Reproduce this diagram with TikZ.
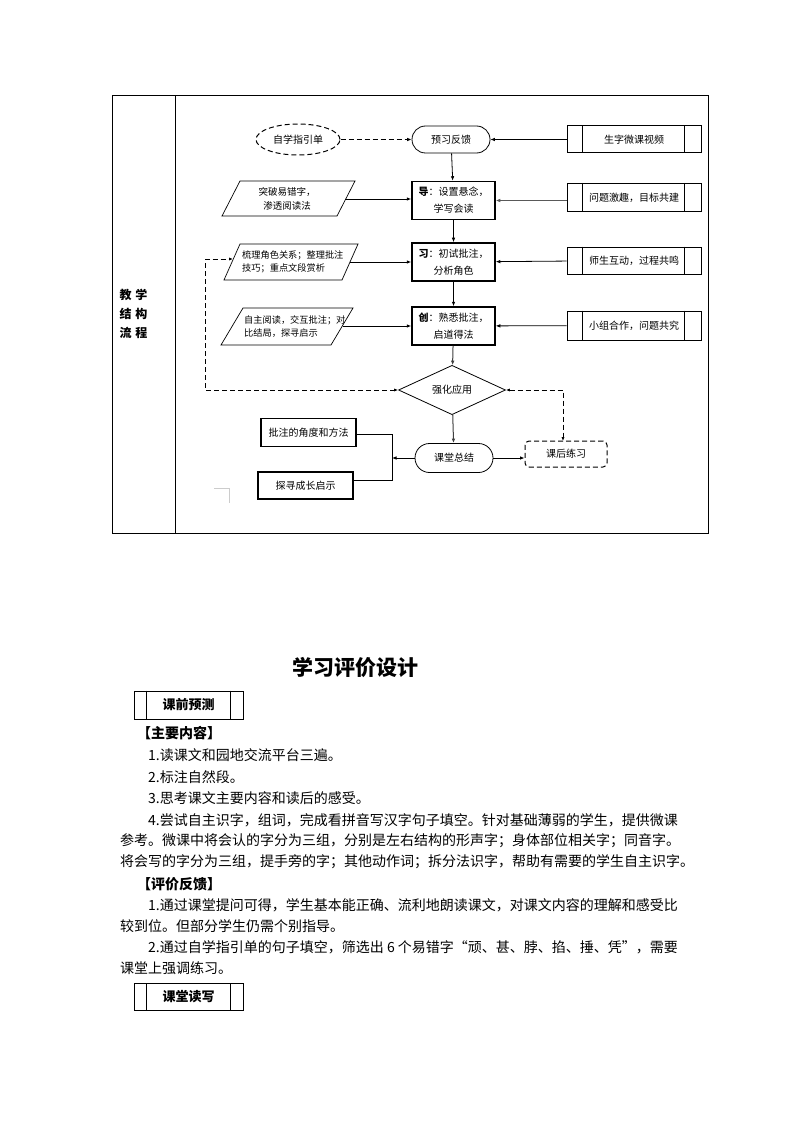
\documentclass[tikz,border=0pt]{standalone}
\usepackage{fontspec}
\setmainfont{Noto Sans CJK SC}
\usetikzlibrary{arrows.meta,shapes.geometric,calc}
\begin{document}
\begin{tikzpicture}[x=1pt,y=-1pt,
  tipp/.style={-{Latex[length=4.5pt,width=3.6pt]}},
  flow/.style={line width=0.8pt, tipp},
  dsh/.style={line width=1pt, dash pattern=on 5pt off 3pt},
  ftxt/.style={inner sep=0pt, font=\fontsize{9.2}{13}\selectfont},
  body/.style={inner sep=0pt, anchor=west, font=\fontsize{14}{16}\selectfont},
  pp/.style={draw, line width=1pt, minimum width=134pt, minimum height=27pt, inner sep=0pt, font=\fontsize{10}{12}\selectfont},
  stage/.style={draw, line width=1.5pt, minimum width=83pt, minimum height=38pt, inner sep=0pt, align=center, font=\fontsize{10}{17}\selectfont},
  term/.style={draw, line width=0.8pt, rounded corners=13.5pt, minimum width=78pt, minimum height=27pt, inner sep=0pt, font=\fontsize{10}{12}\selectfont},
  sbox/.style={draw, line width=1.2pt, minimum width=95pt, minimum height=28pt, inner sep=0pt, font=\fontsize{10}{12}\selectfont},
  para/.style={draw, line width=0.7pt},
  hbox/.style={draw, line width=1pt, minimum width=109pt, minimum height=28pt, inner sep=0pt, font=\fontsize{13}{15}\selectfont\bfseries}
]
\useasboundingbox (0,0) rectangle (794,1123);
\fill[white] (0,0) rectangle (794,1123);

% table
\draw[line width=1pt] (112,96) rectangle (708,533);
\draw[line width=1pt] (175,96) -- (175,533);
\node[inner sep=0pt, font=\fontsize{12}{14}\selectfont\bfseries] (l1) at (133.5,295) {教\hspace{4pt}学};
\node[inner sep=0pt, font=\fontsize{12}{14}\selectfont\bfseries] (l2) at (133.5,314) {结\hspace{4pt}构};
\node[inner sep=0pt, font=\fontsize{12}{14}\selectfont\bfseries] (l3) at (133.5,333) {流\hspace{4pt}程};

% row 1
\node[draw, dsh, ellipse, minimum width=84pt, minimum height=31pt, inner sep=0pt, font=\fontsize{10}{12}\selectfont] (zx) at (298,139.5) {自学指引单};
\node[term] (yx) at (451,139.5) {预习反馈};
\node[pp] (sz) at (634,139.5) {生字微课视频};

% row 2
\draw[para] (240,181) -- (355,181) -- (337,216) -- (222,216) -- cycle;
\node[ftxt, align=center, font=\fontsize{9.5}{14}\selectfont] (tp) at (287,199) {突破易错字，\\渗透阅读法};
\coordinate (tpe) at (346,199);
\node[stage] (dao) at (453.5,200.5) {\textbf{导}：设置悬念，\\学写会读};
\node[pp, minimum height=28pt] (wt) at (634,197.5) {问题激趣，目标共建};

% row 3
\draw[para] (240,244) -- (358,244) -- (342,280) -- (224,280) -- cycle;
\node[ftxt, align=left, anchor=west] (sl) at (242,262) {梳理角色关系；整理批注\\技巧；重点文段赏析};
\coordinate (slw) at (233,259);
\coordinate (sle) at (350,262);
\node[stage] (xi) at (453.5,262) {\textbf{习}：初试批注，\\分析角色};
\node[pp] (ss) at (634,260.5) {师生互动，过程共鸣};

% row 4
\draw[para] (243,308) -- (353,308) -- (331,345) -- (221,345) -- cycle;
\node[ftxt, align=left, anchor=west] (zz) at (244,327) {自主阅读，交互批注；对\\比结局，探寻启示};
\coordinate (zze) at (343,326);
\node[stage] (cz) at (453.5,326) {\textbf{创}：熟悉批注，\\启道得法};
\node[pp, minimum height=29pt] (xz) at (634,325.5) {小组合作，问题共究};

\foreach \n in {sz,wt,ss,xz}{
  \draw[line width=1pt] ([xshift=16pt]\n.north west) -- ([xshift=16pt]\n.south west);
  \draw[line width=1pt] ([xshift=-17pt]\n.north east) -- ([xshift=-17pt]\n.south east);
}

% diamond
\node[draw, diamond, line width=0.8pt, minimum width=107pt, minimum height=41pt, inner sep=0pt, font=\fontsize{10}{12}\selectfont] (qh) at (452,390) {强化应用};

% bottom
\node[term, minimum height=29pt, rounded corners=14.5pt] (kt) at (454,458) {课堂总结};
\node[draw, dsh, rounded corners=4pt, minimum width=82pt, minimum height=26pt, inner sep=0pt, font=\fontsize{10}{12}\selectfont] (kh) at (566,454) {课后练习};
\node[sbox] (pz) at (308.5,432.5) {批注的角度和方法};
\node[sbox, minimum height=27pt] (tx) at (305.5,485.5) {探寻成长启示};
\coordinate (bt) at (392,434);
\coordinate (bm) at (392,458);
\coordinate (bb) at (392,480);
\draw[gray!40, line width=0.8pt] (214,488) -- (229,488) -- (229,503);

% connectors
\draw[dsh, tipp] (zx) -- (yx);
\draw[flow] (sz) -- (yx);
\draw[flow] (yx) -- (dao);
\draw[flow] (tpe) -- (tpe -| dao.west);
\draw[line width=1.8pt, black!65, tipp] (wt.west |- dao) -- (dao.east);
\draw[flow] (dao) -- (xi);
\draw[flow] (sle) -- (sle -| xi.west);
\draw[flow] (ss) -- (xi);
\draw[flow] (xi) -- (cz);
\draw[flow] (zze) -- (zze -| cz.west);
\draw[flow] (xz) -- (cz);
\draw[flow, black!75, line width=1pt] (cz) -- (qh);
\draw[flow, black!75, line width=1pt] (qh) -- (kt);
\draw[dsh, {Latex[length=4pt,width=3.2pt]}-{Latex[length=4pt,width=3.2pt]}] (qh.west) -- (205,390) -- (205,259) -- (slw);
\draw[dsh, {Latex[length=4pt,width=3.2pt]}-{Latex[length=4pt,width=3.2pt]}] (qh.east) -- (563,390) -- (563,441);
\draw[flow] (kt) -- (kt.east -| kh.west);
\draw[flow] (kt) -- (bm);
\draw[line width=0.8pt] (pz.east |- bt) -- (bt) -- (bb) -- (tx.east |- bb);

% lower part
\node[inner sep=0pt, font=\fontsize{21}{24}\selectfont\bfseries] (title) at (355,668) {学习评价设计};
\node[hbox] (kq) at (188.5,705) {课前预测};
\node[hbox, minimum height=27pt] (kd) at (188.5,997) {课堂读写};
\foreach \n in {kq,kd}{
  \draw[line width=1pt] ([xshift=13pt]\n.north west) -- ([xshift=13pt]\n.south west);
  \draw[line width=1pt] ([xshift=-13pt]\n.north east) -- ([xshift=-13pt]\n.south east);
}
\node[body, font=\fontsize{14}{16}\selectfont\bfseries] (h1) at (137,733) {【主要内容】};
\node[body] (t1) at (148,755) {1.读课文和园地交流平台三遍。};
\node[body] (t2) at (148,777) {2.标注自然段。};
\node[body] (t3) at (148,798) {3.思考课文主要内容和读后的感受。};
\node[body] (t4) at (148,820) {4.尝试自主识字，组词，完成看拼音写汉字句子填空。针对基础薄弱的学生，提供微课};
\node[body] (t5) at (120,841) {参考。微课中将会认的字分为三组，分别是左右结构的形声字；身体部位相关字；同音字。};
\node[body] (t6) at (120,862) {将会写的字分为三组，提手旁的字；其他动作词；拆分法识字，帮助有需要的学生自主识字。};
\node[body, font=\fontsize{14}{16}\selectfont\bfseries] (h2) at (137,884) {【评价反馈】};
\node[body] (t7) at (148,905) {1.通过课堂提问可得，学生基本能正确、流利地朗读课文，对课文内容的理解和感受比};
\node[body] (t8) at (120,926) {较到位。但部分学生仍需个别指导。};
\node[body] (t9) at (148,947) {2.通过自学指引单的句子填空，筛选出 6 个易错字“顽、甚、脖、掐、捶、凭”，需要};
\node[body] (t10) at (120,968) {课堂上强调练习。};
\end{tikzpicture}
\end{document}
